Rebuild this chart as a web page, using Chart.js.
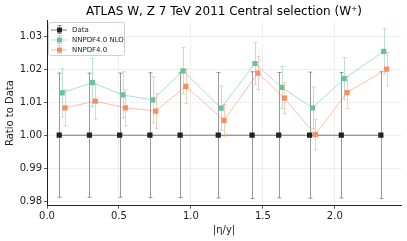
<!DOCTYPE html>
<html>
<head>
<meta charset="utf-8">
<script src="https://cdn.jsdelivr.net/npm/chart.js@4"></script>
<style>
  html, body { margin: 0; padding: 0; background: #fff; }
</style>
</head>
<body>
<canvas id="chart" width="407" height="241"></canvas>
<script>
// bin centres in |eta| and the values
const binCenters = [0.105, 0.315, 0.525, 0.735, 0.945, 1.21, 1.445, 1.63, 1.845, 2.065, 2.34];

const dataRatio = [1, 1, 1, 1, 1, 1, 1, 1, 1, 1, 1];
const dataErr = [0.0188, 0.0188, 0.0188, 0.0189, 0.0189, 0.0190, 0.0192, 0.0190, 0.0191, 0.0190, 0.0192];

const nloRatio = [1.0128, 1.0159, 1.0122, 1.0107, 1.0195, 1.0082, 1.0217, 1.0145, 1.0083, 1.0171, 1.0254];
const nloErr = [0.0073, 0.0073, 0.0070, 0.0070, 0.0070, 0.0067, 0.0064, 0.0064, 0.0063, 0.0064, 0.0068];

const nnloRatio = [1.0083, 1.0103, 1.0083, 1.0073, 1.0148, 1.0045, 1.0188, 1.0112, 1.0002, 1.0129, 1.0200];
const nnloErr = [0.0055, 0.0055, 0.0054, 0.0053, 0.0052, 0.0048, 0.0050, 0.0047, 0.0046, 0.0048, 0.0051];

const xTicks = [0.0, 0.5, 1.0, 1.5, 2.0];
const yTicks = [0.98, 0.99, 1.00, 1.01, 1.02, 1.03];

const FONT = 'DejaVu Sans';

// small horizontal shift so the three series don't sit on top of each other
function points(vals, shift) {
    return vals.map((v, i) => ({ x: binCenters[i] + shift, y: v }));
}

function series(label, vals, errs, shift, rgb, lineAlpha, errAlpha, order) {
    return {
        label: label,
        data: points(vals, shift),
        errors: errs,
        errorColor: `rgba(${rgb}, ${errAlpha})`,
        borderColor: `rgba(${rgb}, ${lineAlpha})`,
        borderWidth: 1,
        pointStyle: 'rect',
        pointRadius: 3.7,
        pointBackgroundColor: `rgb(${rgb})`,
        pointBorderColor: `rgb(${rgb})`,
        pointBorderWidth: 0,
        showLine: true,
        tension: 0,
        order: order
    };
}

const errorBars = {
    id: 'errorBars',
    beforeDatasetDraw(chart, args) {
        const ds = chart.data.datasets[args.index];
        if (!ds.errors) return;
        const { ctx } = chart;
        const x = chart.scales.x, y = chart.scales.y;
        const cap = 2;
        ctx.save();
        ctx.strokeStyle = ds.errorColor;
        ctx.lineWidth = 1;
        ds.data.forEach((p, i) => {
            const px = Math.round(x.getPixelForValue(p.x)) + 0.5;
            const top = y.getPixelForValue(p.y + ds.errors[i]);
            const bot = y.getPixelForValue(p.y - ds.errors[i]);
            ctx.beginPath();
            ctx.moveTo(px, top); ctx.lineTo(px, bot);
            ctx.moveTo(px - cap, top); ctx.lineTo(px + cap, top);
            ctx.moveTo(px - cap, bot); ctx.lineTo(px + cap, bot);
            ctx.stroke();
        });
        ctx.restore();
    }
};

// matplotlib style legend with the errorbar glyph
const boxLegend = {
    id: 'boxLegend',
    afterDraw(chart) {
        const { ctx } = chart;
        const bx = 48.5, by = 22.5, bw = 76, bh = 33;
        ctx.save();
        ctx.fillStyle = 'rgba(255,255,255,0.85)';
        ctx.strokeStyle = '#d0d0d0';
        ctx.lineWidth = 1;
        ctx.beginPath();
        ctx.roundRect(bx, by, bw, bh, 2);
        ctx.fill();
        ctx.stroke();

        const rows = [29.5, 39.5, 49.5];
        ctx.font = `7px "${FONT}"`;
        ctx.textBaseline = 'middle';
        chart.data.datasets.forEach((ds, i) => {
            const cy = rows[i];
            const cx = 59;
            ctx.strokeStyle = ds.borderColor;
            ctx.beginPath();
            ctx.moveTo(51, cy + 0.5); ctx.lineTo(67, cy + 0.5);
            ctx.stroke();
            ctx.strokeStyle = ds.errorColor;
            ctx.beginPath();
            ctx.moveTo(cx + 0.5, cy - 4); ctx.lineTo(cx + 0.5, cy + 4);
            ctx.moveTo(cx - 1.5, cy - 4); ctx.lineTo(cx + 2.5, cy - 4);
            ctx.moveTo(cx - 1.5, cy + 4); ctx.lineTo(cx + 2.5, cy + 4);
            ctx.stroke();
            ctx.fillStyle = ds.pointBackgroundColor;
            ctx.fillRect(cx - 2, cy - 2, 5, 5);
            ctx.fillStyle = '#222';
            ctx.fillText(ds.label, 72, cy + 0.5);
        });
        ctx.restore();
    }
};

new Chart(document.getElementById('chart'), {
    type: 'line',
    data: {
        datasets: [
            series('Data', dataRatio, dataErr, -0.02, '34, 34, 34', 0.6, 0.45, 2),
            series('NNPDF4.0 NLO', nloRatio, nloErr, 0, '102, 194, 165', 0.55, 0.45, 1),
            series('NNPDF4.0', nnloRatio, nnloErr, 0.02, '252, 141, 98', 0.55, 0.45, 0)
        ]
    },
    options: {
        responsive: false,
        animation: false,
        layout: { padding: { left: 0, right: 6, top: 0, bottom: 0 } },
        plugins: {
            legend: { display: false },
            tooltip: { enabled: false },
            title: {
                display: true,
                text: 'ATLAS W, Z 7 TeV 2011 Central selection (W⁺)',
                color: '#000',
                fullSize: false,
                font: { family: FONT, size: 12, weight: 'normal' },
                padding: { top: 5, bottom: 1 }
            }
        },
        scales: {
            x: {
                type: 'linear',
                min: 0,
                max: 2.46,
                afterBuildTicks: s => { s.ticks = xTicks.map(v => ({ value: v })); },
                afterFit: s => { s.height = 35.3; },
                ticks: {
                    color: '#222',
                    font: { family: FONT, size: 10 },
                    padding: 2,
                    maxRotation: 0,
                    callback: v => v.toFixed(1)
                },
                grid: { color: '#ececec', lineWidth: 0.8, tickColor: '#333', tickLength: 3 },
                border: { display: true, color: '#222', width: 1 },
                title: {
                    display: true,
                    text: '|η/y|',
                    color: '#222',
                    font: { family: FONT, size: 10 },
                    padding: { top: 0, bottom: 5 }
                }
            },
            y: {
                min: 0.97865,
                max: 1.03475,
                afterBuildTicks: s => { s.ticks = yTicks.map(v => ({ value: v })); },
                afterFit: s => { s.width = 47; },
                ticks: {
                    color: '#222',
                    font: { family: FONT, size: 10 },
                    padding: 2,
                    callback: v => v.toFixed(2)
                },
                grid: { color: '#ececec', lineWidth: 0.8, tickColor: '#333', tickLength: 3 },
                border: { display: true, color: '#222', width: 1 },
                title: {
                    display: true,
                    text: 'Ratio to Data',
                    color: '#222',
                    font: { family: FONT, size: 10 },
                    padding: { top: 4, bottom: 0 }
                }
            }
        }
    },
    plugins: [errorBars, boxLegend]
});
</script>
</body>
</html>
